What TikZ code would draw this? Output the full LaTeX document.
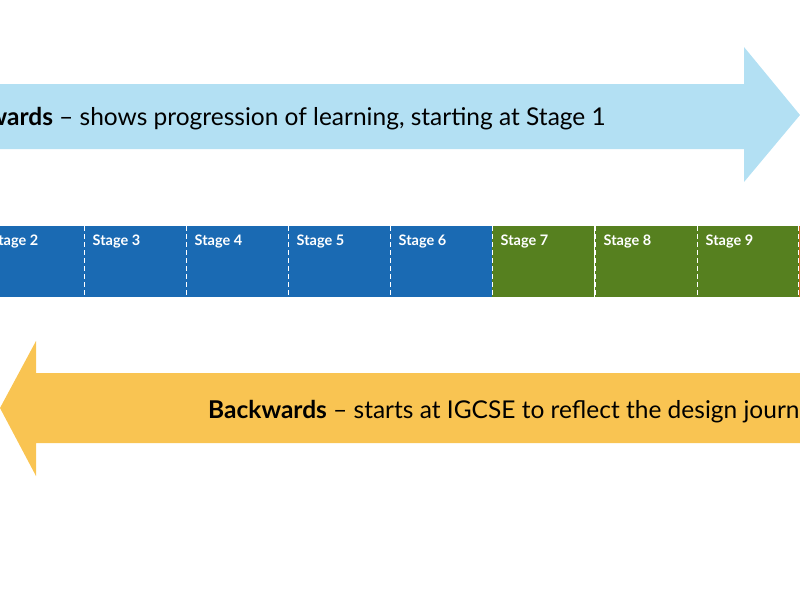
\documentclass[tikz,border=0pt]{standalone}
\usepackage{fontspec}
\setmainfont{Lato}
\definecolor{sky}{HTML}{B3E0F3}
\definecolor{blu}{HTML}{1A6AB3}
\definecolor{grn}{HTML}{56801F}
\definecolor{gold}{HTML}{F9C452}
\definecolor{org}{HTML}{D9661F}
\begin{document}
\begin{tikzpicture}[x=1pt,y=-1pt,
  lbl/.style={anchor=north west,text=white,font=\fontsize{14.5}{16}\selectfont\bfseries,inner sep=0},
  sep/.style={white,dashed,line width=1pt,dash pattern=on 5pt off 3pt}]
\useasboundingbox (0,0) rectangle (800,600);
\clip (0,0) rectangle (800,600);
% top arrow
\path[fill=sky] (-20,84) -- (744,84) -- (744,47) -- (800,115) -- (744,182) -- (744,149) -- (-20,149) -- cycle;
\node[anchor=base east,inner sep=0,font=\fontsize{24.5}{27}\selectfont] (ft) at (606,125) {\textbf{Forwards} -- shows progression of learning, starting at Stage 1};
% bar
\foreach \i/\l/\c in {2/-18/blu,3/84/blu,4/186/blu,5/288/blu,6/390/blu,7/492/grn,8/595/grn,9/697/grn}{
  \fill[\c] (\l,226) rectangle ++(102.2,71);
  \node[lbl] (s\i) at (\l+8.5,235) {Stage \i};
}
\fill[org] (798.5,226) rectangle (810,297);
\foreach \x in {84,186,288,390,492,595,697,798}{\draw[sep] (\x,226) -- (\x,297);}
% bottom arrow
\path[fill=gold] (820,373) -- (36,373) -- (36,341) -- (0,408) -- (36,476) -- (36,443) -- (820,443) -- cycle;
\node[anchor=base west,inner sep=0,font=\fontsize{24.5}{27}\selectfont] (bt) at (208,418) {\textbf{Backwards} -- starts at IGCSE to reflect the design journey};
\end{tikzpicture}
\end{document}
